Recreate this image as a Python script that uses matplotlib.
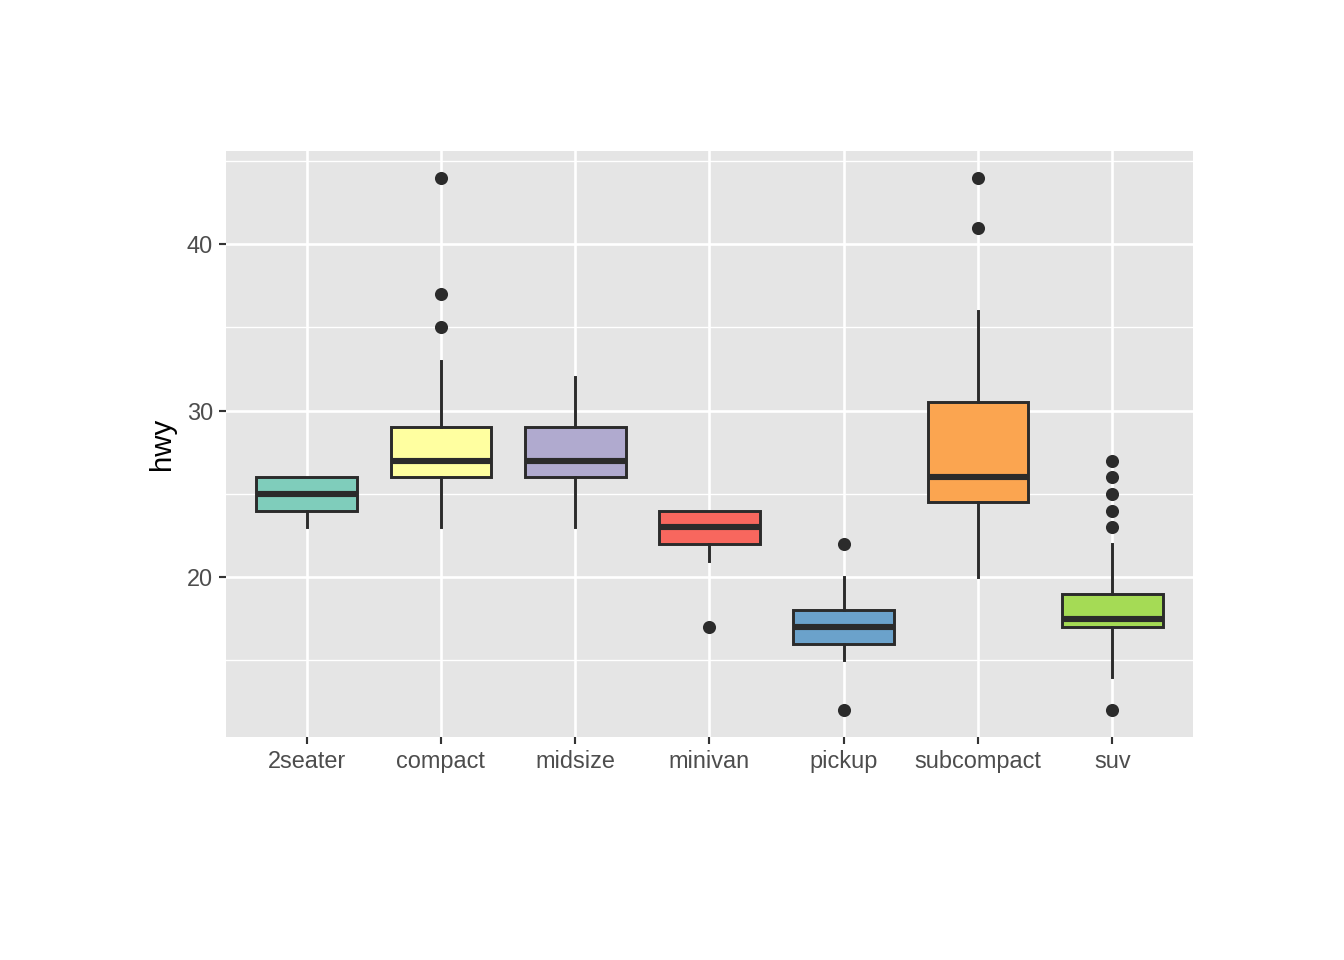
import matplotlib.pyplot as plt
from matplotlib.ticker import FixedLocator

plt.rcParams['font.family'] = ['Liberation Sans', 'DejaVu Sans']

# mpg highway mileage by class, summary stats
classes = ["2seater", "compact", "midsize", "minivan", "pickup", "subcompact", "suv"]
whislo = [23, 23, 23, 21, 15, 20, 14]
q1 = [24, 26, 26, 22, 16, 24.5, 17]
med = [25, 27, 27, 23, 17, 26, 17.5]
q3 = [26, 29, 29, 24, 18, 30.5, 19]
whishi = [26, 33, 32, 24, 20, 36, 22]
fliers = [[], [35, 37, 44], [], [17], [22, 12], [41, 44], [23, 24, 25, 26, 27, 12]]
fills = ["#7FCDBB", "#FFFFA0", "#B0AACF", "#F8675E", "#6BA2CB", "#FBA550", "#A5DB55"]

line_col = "#2B2B2B"

stats = []
for i, c in enumerate(classes):
    stats.append(dict(label=c, whislo=whislo[i], q1=q1[i], med=med[i],
                      q3=q3[i], whishi=whishi[i], fliers=fliers[i]))

fig = plt.figure(figsize=(7, 5), dpi=192)
ax = fig.add_axes([0.1682, 0.2323, 0.7194, 0.6104])
ax.set_facecolor("#E5E5E5")

pos = list(range(1, len(classes) + 1))
bp = ax.bxp(stats, positions=pos, widths=0.75, patch_artist=True, showcaps=False,
            boxprops=dict(edgecolor=line_col, linewidth=1.1),
            whiskerprops=dict(color=line_col, linewidth=1.1),
            medianprops=dict(color=line_col, linewidth=2.3, solid_capstyle="butt"),
            flierprops=dict(marker="o", markerfacecolor=line_col, markeredgecolor=line_col,
                            markersize=3.9, linestyle="none"),
            zorder=3)
for patch, col in zip(bp["boxes"], fills):
    patch.set_facecolor(col)

ax.set_xlim(0.4, 7.6)
ax.set_ylim(10.4, 45.6)
ax.set_xticks(pos)
ax.set_xticklabels(classes)
ax.set_yticks([20, 30, 40])
ax.yaxis.set_minor_locator(FixedLocator([15, 25, 35, 45]))

ax.grid(which="major", color="white", linewidth=1.0, zorder=0)
ax.grid(which="minor", axis="y", color="white", linewidth=0.5, zorder=0)
ax.set_axisbelow(True)
for s in ax.spines.values():
    s.set_visible(False)

ax.tick_params(axis="both", which="major", length=2.75, width=0.8, color="#333333",
               labelsize=8.8, labelcolor="#4D4D4D", pad=2.2)
ax.tick_params(axis="y", which="minor", length=0)
ax.set_ylabel("hwy", fontsize=11, color="black", labelpad=4)

fig.savefig("out.png", dpi=192, facecolor="white")
